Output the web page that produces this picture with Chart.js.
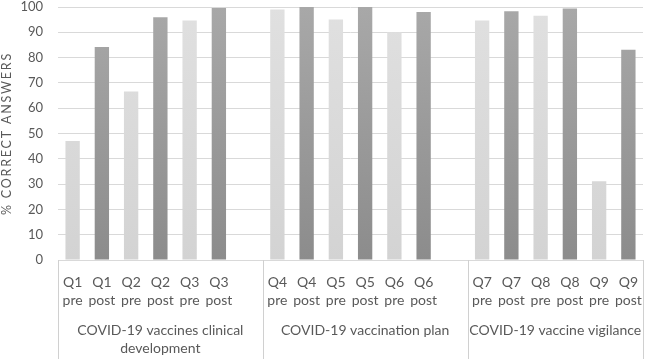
<!DOCTYPE html>
<html><head><meta charset="utf-8">
<script src="https://cdn.jsdelivr.net/npm/chart.js@4"></script>
<style>html,body{margin:0;padding:0;background:#fff}#wrap{width:647px;height:359px;position:relative}</style>
</head><body><div id="wrap"><canvas id="c"></canvas></div>
<script>
const categories = [["Q1","pre"],["Q1","post"],["Q2","pre"],["Q2","post"],["Q3","pre"],["Q3","post"],"",
  ["Q4","pre"],["Q4","post"],["Q5","pre"],["Q5","post"],["Q6","pre"],["Q6","post"],"",
  ["Q7","pre"],["Q7","post"],["Q8","pre"],["Q8","post"],["Q9","pre"],["Q9","post"]];
const values = [47, 84.2, 66.6, 95.9, 94.7, 99.6, null,
  99, 100, 95.1, 100, 90, 98, null,
  94.7, 98.3, 96.5, 99.4, 31.1, 83.1];
const groupLabels = [["COVID-19 vaccines clinical","development"],["COVID-19 vaccination plan"],["COVID-19 vaccine vigilance"]];
const groupStart = [0, 7, 14];
const groupEnd = [6, 13, 19];
const yTitle = "% CORRECT ANSWERS";
const FONT = "Lato, 'Open Sans', sans-serif";

function barColor(ctx){
  const chart = ctx.chart, a = chart.chartArea;
  const c = categories[ctx.dataIndex];
  const post = Array.isArray(c) && c[1] === 'post';
  if (!a) return post ? '#9a9a9a' : '#d9d9d9';
  const g = chart.ctx.createLinearGradient(0, a.top, 0, a.bottom);
  if (post){ g.addColorStop(0,'#a8a8a8'); g.addColorStop(1,'#8c8c8c'); }
  else { g.addColorStop(0,'#e0e0e0'); g.addColorStop(1,'#d3d3d3'); }
  return g;
}

const groupPlugin = {
  id: 'groups',
  afterDraw(chart){
    const x = chart.scales.x, y = chart.scales.y, ctx = chart.ctx, a = chart.chartArea;
    const half = (x.getPixelForValue(1) - x.getPixelForValue(0)) / 2;
    ctx.save();
    ctx.strokeStyle = '#d0d0d0';
    ctx.lineWidth = 1;
    const bounds = [];
    groupStart.forEach((s,i)=>{
      const l = x.getPixelForValue(s) - half;
      const r = Math.min(x.getPixelForValue(groupEnd[i]) + half, a.right);
      bounds.push(l, r);
      ctx.fillStyle = '#595959';
      ctx.font = "14px " + FONT;
      ctx.textAlign = 'center';
      ctx.textBaseline = 'middle';
      const cx = (l + r) / 2;
      groupLabels[i].forEach((line, j)=>{
        ctx.fillText(line, cx, a.bottom + 70 + j * 18);
      });
    });
    const uniq = [...new Set(bounds.map(v=>Math.round(v)))];
    uniq.forEach(v=>{
      ctx.beginPath();
      ctx.moveTo(v + 0.5, a.bottom);
      ctx.lineTo(v + 0.5, chart.height);
      ctx.stroke();
    });
    // y axis title
    ctx.save();
    ctx.translate(7, (y.top + y.bottom) / 2);
    ctx.rotate(-Math.PI / 2);
    ctx.font = "12.5px " + FONT;
    ctx.letterSpacing = '1.8px';
    ctx.fillStyle = '#595959';
    ctx.textAlign = 'center';
    ctx.textBaseline = 'middle';
    ctx.fillText(yTitle, 0, 0);
    ctx.restore();
    ctx.restore();
  }
};

new Chart(document.getElementById('c'), {
  type: 'bar',
  data: { labels: categories, datasets: [{ data: values, backgroundColor: barColor, barPercentage: 0.49, categoryPercentage: 1 }] },
  options: {
    responsive: true, maintainAspectRatio: false, animation: false,
    layout: { padding: { left: 0, right: 4, top: 7, bottom: 0 } },
    plugins: { legend: { display: false }, tooltip: { enabled: false } },
    scales: {
      x: {
        grid: { display: false, drawTicks: false },
        border: { display: true, color: '#d9d9d9' },
        ticks: { color: '#595959', font: { family: FONT, size: 14, lineHeight: 1.29 }, padding: 13, maxRotation: 0, autoSkip: false },
        afterFit(s){ s.height = 99; s.paddingLeft = 0; s.paddingRight = 0; }
      },
      y: {
        min: 0, max: 100,
        ticks: { stepSize: 10, color: '#595959', font: { family: FONT, size: 13 }, padding: 15 },
        grid: { color: '#d9d9d9', drawTicks: false },
        border: { display: false },
        afterFit(s){ s.width = 58; s.paddingTop = 0; s.paddingBottom = 0; }
      }
    }
  },
  plugins: [groupPlugin]
});
</script></body></html>
